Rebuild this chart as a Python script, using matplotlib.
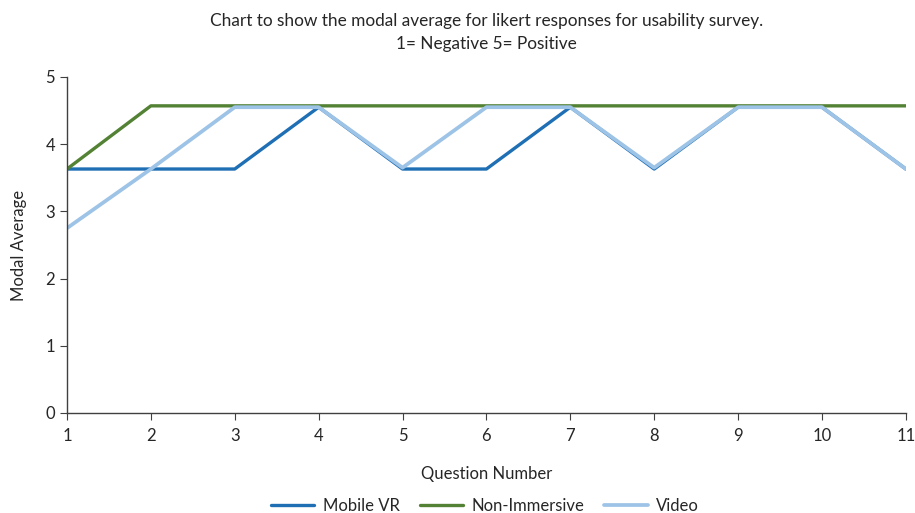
import matplotlib.pyplot as plt

# data
questions = list(range(1, 12))
mobile_vr = [3.63, 3.63, 3.63, 4.55, 3.63, 3.63, 4.55, 3.63, 4.55, 4.55, 3.63]
non_immersive = [3.63, 4.57, 4.57, 4.57, 4.57, 4.57, 4.57, 4.57, 4.57, 4.57, 4.57]
video = [2.75, 3.63, 4.55, 4.55, 3.65, 4.55, 4.55, 3.65, 4.55, 4.55, 3.63]

plt.rcParams['font.family'] = ['Lato', 'DejaVu Sans']
text_col = '#262626'

fig = plt.figure(figsize=(9.15, 5.13), dpi=100)
ax = fig.add_axes([0.0732, 0.195, 0.9168, 0.655])

ax.plot(questions, mobile_vr, color='#1f6fb5', lw=2.4, label='Mobile VR', solid_capstyle='round')
ax.plot(questions, non_immersive, color='#548235', lw=2.4, label='Non-Immersive', solid_capstyle='round')
ax.plot(questions, video, color='#9dc3e6', lw=2.7, label='Video', solid_capstyle='round')

ax.set_xlim(1, 11)
ax.set_ylim(0, 5)
ax.set_xticks(questions)
ax.set_yticks(range(0, 6))
for s in ['top', 'right']:
    ax.spines[s].set_visible(False)
for s in ['left', 'bottom']:
    ax.spines[s].set_color('#404040')
    ax.spines[s].set_linewidth(1.0)
ax.tick_params(axis='both', colors='#404040', labelcolor=text_col, labelsize=12, length=5)
ax.tick_params(axis='x', pad=6)

ax.set_xlabel('Question Number', fontsize=12, color=text_col, labelpad=16)
ax.set_ylabel('Modal Average', fontsize=12, color=text_col, labelpad=13)
fig.text(0.532, 0.96, 'Chart to show the modal average for likert responses for usability survey.',
         ha='center', va='center', fontsize=12.4, color=text_col)
fig.text(0.532, 0.914, '1= Negative 5= Positive', ha='center', va='center', fontsize=12.4, color=text_col)

fig.legend(loc='center', bbox_to_anchor=(0.53, 0.013), ncol=3, frameon=False, fontsize=12,
           handlelength=2.6, columnspacing=1.2, handletextpad=0.5, labelcolor=text_col)

fig.savefig('out.png', dpi=100)
